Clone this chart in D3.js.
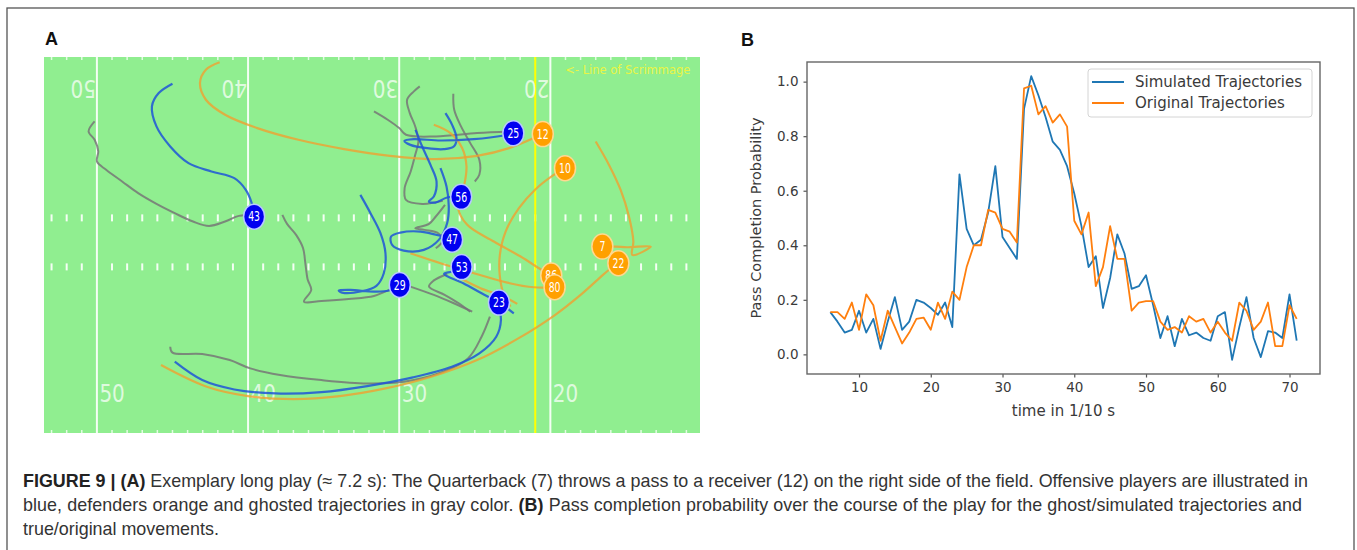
<!DOCTYPE html>
<html>
<head>
<meta charset="utf-8">
<script src="https://cdn.jsdelivr.net/npm/d3@7"></script>
<style>
  body { margin: 0; background: #fff; }
  svg { display: block; }
</style>
</head>
<body>
<div id="fig"></div>
<script>
// ---------- panel B data ----------
var timeSteps = d3.range(6, 72);
var simulated = [0.155, 0.12, 0.08, 0.09, 0.16, 0.08, 0.13, 0.02, 0.12, 0.21,
  0.09, 0.12, 0.20, 0.19, 0.17, 0.145, 0.19, 0.10, 0.66, 0.46,
  0.40, 0.42, 0.52, 0.69, 0.43, 0.39, 0.35, 0.90, 1.02, 0.95,
  0.87, 0.78, 0.75, 0.69, 0.59, 0.47, 0.32, 0.36, 0.17, 0.28,
  0.44, 0.37, 0.24, 0.25, 0.29, 0.18, 0.06, 0.14, 0.03, 0.13,
  0.07, 0.08, 0.06, 0.05, 0.14, 0.155, -0.02, 0.10, 0.21, 0.06,
  -0.01, 0.085, 0.08, 0.06, 0.22, 0.05];
var original = [0.155, 0.155, 0.13, 0.19, 0.09, 0.22, 0.18, 0.05, 0.16, 0.10,
  0.04, 0.08, 0.13, 0.135, 0.09, 0.19, 0.13, 0.23, 0.20, 0.32,
  0.40, 0.40, 0.53, 0.52, 0.46, 0.45, 0.41, 0.975, 0.985, 0.88,
  0.91, 0.85, 0.88, 0.835, 0.49, 0.44, 0.52, 0.25, 0.32, 0.47,
  0.35, 0.35, 0.16, 0.19, 0.195, 0.195, 0.12, 0.09, 0.10, 0.08,
  0.14, 0.12, 0.13, 0.08, 0.12, 0.08, 0.05, 0.19, 0.16, 0.09,
  0.12, 0.19, 0.03, 0.03, 0.18, 0.13];
var xTicks = [10, 20, 30, 40, 50, 60, 70];
var yTicks = [0.0, 0.2, 0.4, 0.6, 0.8, 1.0];
var seriesNames = ["Simulated Trajectories", "Original Trajectories"];

// ---------- panel A data (field yards) ----------
var yardLines = [50, 40, 30, 20];
var lineOfScrimmage = 21;
var hashRows = [23.58, 29.75];

var blueTracks = [
  [[45.0,46.64],[45.91,45.46],[46.36,43.78],[46.06,41.26],[45.15,38.74],[43.94,36.64],[42.42,35.59],[40.91,34.75],[40.15,33.28],[39.76,31.6],[39.61,29.92]],
  [[26.94,42.93],[26.5,41.46],[26.21,39.78],[26.39,38.73],[27.05,38.4],[28.15,38.52],[29.26,38.94],[29.65,39.45],[29.03,39.66],[27.27,39.49],[25.06,39.66],[23.07,40.12],[22.41,40.41]],
  [[28.92,40.83],[28.48,38.73],[27.93,36.42],[27.53,34.33],[27.71,32.44],[28.04,31.81],[27.6,31.68],[26.83,32.31],[25.9,32.44]],
  [[27.27,36.0],[26.87,33.69],[26.72,31.18],[26.83,29.08],[27.38,26.98],[28.37,25.72],[29.7,25.63],[30.47,26.35],[30.54,27.4],[29.92,27.9],[28.59,28.03],[27.27,27.48],[26.5,26.98]],
  [[32.57,32.64],[31.9,30.34],[31.24,27.82],[30.91,25.3],[31.02,22.78],[31.51,21.18],[32.46,20.51],[33.78,20.34],[34.0,20.6],[33.23,20.68],[31.68,20.47],[30.69,20.6],[29.96,21.31]],
  [[25.87,23.55],[26.5,23.0],[27.03,22.69],[25.76,21.51],[24.55,20.25],[23.33,19.0],[22.42,17.73]],
  [[23.48,19.08],[23.27,16.89],[23.58,14.79],[24.7,12.69],[26.52,11.01],[29.09,9.67],[32.12,8.58],[35.15,7.82],[38.18,7.65],[40.91,8.15],[43.03,9.33],[44.85,11.64]]
];
var orangeTracks = [
  [[41.88,49.33],[42.79,48.4],[43.18,46.72],[42.79,44.62],[41.52,42.73],[39.39,41.05],[36.67,39.58],[33.64,38.41],[30.61,37.56],[27.58,37.14],[24.85,37.56],[22.73,38.53],[20.52,40.3]],
  [[19.03,36.0],[19.87,35.04],[20.98,33.36],[22.08,30.97],[22.96,28.03],[23.34,25.09],[23.34,22.36],[23.07,20.05],[22.63,18.58]],
  [[17.0,39.36],[16.12,36.42],[15.35,33.27],[14.8,29.92],[14.51,26.77],[14.58,25.09],[13.36,26.14],[14.91,26.05],[15.68,26.14],[16.56,26.14]],
  [[15.61,24.04],[16.52,22.57],[17.88,20.25],[19.7,17.52],[22.12,14.58],[24.85,11.85],[27.88,9.75],[30.91,8.28],[33.94,7.31],[36.97,6.93],[40.0,7.31],[42.73,8.49],[45.76,11.22]],
  [[27.71,41.46],[26.61,40.41],[25.83,38.52],[25.55,36.21],[25.72,33.69],[26.12,31.18],[25.5,28.87],[23.74,26.77],[21.97,24.88],[20.65,23.28],[19.94,22.49]],
  [[29.26,25.3],[27.27,24.04],[25.06,22.78],[22.85,21.6],[21.09,21.02],[19.72,21.02]],
  [[26.17,22.36],[24.62,20.89],[23.08,19.84],[22.19,18.92]]
];
var grayTracks = [
  [[50.15,41.89],[50.55,40.63],[50.15,39.58],[49.91,38.11],[50.0,36.85],[49.39,35.8],[48.33,34.33],[47.27,32.86],[46.06,31.51],[44.85,30.34],[43.64,29.29],[42.58,28.74],[41.52,29.29],[40.61,30.0],[39.85,30.04]],
  [[37.73,30.13],[37.42,29.0],[36.82,27.61],[36.36,25.93],[36.21,24.04],[36.06,22.02],[35.82,20.67],[36.3,19.2],[35.15,19.29],[33.33,19.54],[31.67,19.92],[30.76,20.59],[30.06,21.01]],
  [[31.67,43.15],[30.76,42.1],[30.0,41.05],[29.55,40.21],[27.58,40.0],[24.85,40.42],[22.73,40.63]],
  [[28.64,46.3],[29.03,45.67],[29.48,44.62],[29.3,42.94],[28.94,41.26],[28.73,39.37],[28.94,37.69],[29.24,35.59],[29.64,33.49],[29.55,32.02],[28.48,31.51],[27.12,31.89]],
  [[26.42,45.38],[26.36,43.36],[25.91,41.26],[25.3,39.16],[24.7,37.06],[24.7,35.17],[25.0,34.33]],
  [[26.97,31.39],[27.58,29.92],[28.03,28.99],[28.94,28.45],[28.33,28.24],[27.42,27.82],[27.12,26.89],[27.58,25.93]],
  [[26.82,22.69],[27.73,21.85],[28.03,21.1],[26.97,20.04],[26.06,19.0],[25.3,17.94]],
  [[29.26,21.1],[27.71,20.05],[26.39,19.0],[25.17,17.95]],
  [[45.15,13.53],[45.0,12.78],[43.03,12.61],[41.21,11.85],[39.85,10.8],[37.88,9.96],[35.15,9.33],[32.12,8.91],[29.7,9.12],[27.27,10.25],[25.45,12.06],[24.55,14.79],[24.0,17.31]]
];
var bluePlayers = [
  {n: "43", x: 39.6, y: 29.9}, {n: "25", x: 22.45, y: 40.4}, {n: "56", x: 25.9, y: 32.4},
  {n: "47", x: 26.5, y: 27.0}, {n: "53", x: 25.87, y: 23.55}, {n: "29", x: 29.96, y: 21.3},
  {n: "23", x: 23.4, y: 19.09}
];
var orangePlayers = [
  {n: "12", x: 20.5, y: 40.3}, {n: "10", x: 19.03, y: 36.0}, {n: "7", x: 16.56, y: 26.14},
  {n: "22", x: 15.5, y: 24.04}, {n: "86", x: 19.94, y: 22.49}, {n: "80", x: 19.72, y: 21.02}
];

var captionLines = [
  [["FIGURE 9 | (A)", true], [" Exemplary long play (\u2248 7.2 s): The Quarterback (7) throws a pass to a receiver (12) on the right side of the field. Offensive players are illustrated in", false]],
  [["blue, defenders orange and ghosted trajectories in gray color. ", false], ["(B)", true], [" Pass completion probability over the course of the play for the ghost/simulated trajectories and", false]],
  [["true/original movements.", false]]
];

var W = 1357, H = 550;
var svg = d3.select("#fig").append("svg").attr("width", W).attr("height", H);

// outer frame
svg.append("rect").attr("x", 7).attr("y", 8).attr("width", 1347).attr("height", 560)
  .attr("fill", "none").attr("stroke", "#555").attr("stroke-width", 1.3);

svg.append("text").attr("x", 45).attr("y", 45).text("A")
  .attr("font-family", "Liberation Sans, Arial, sans-serif").attr("font-weight", "bold")
  .attr("font-size", 18).attr("fill", "#111");
svg.append("text").attr("x", 741).attr("y", 46).text("B")
  .attr("font-family", "Liberation Sans, Arial, sans-serif").attr("font-weight", "bold")
  .attr("font-size", 18).attr("fill", "#111");

// ================= panel A : the field =================
var fx = d3.scaleLinear().domain([53.5, 10.1]).range([44, 700]);
var fy = d3.scaleLinear().domain([2.67, 50.0]).range([433, 57]);
var fTop = fy.range()[1], fBot = fy.range()[0];

var field = svg.append("g");
field.append("rect").attr("x", fx(53.5)).attr("y", fTop)
  .attr("width", fx(10.1) - fx(53.5)).attr("height", fBot - fTop)
  .attr("fill", "#90ee90");

var yardTicks = d3.range(11, 54).filter(function(d) { return d % 10 !== 0; });

// ticks along the sidelines
field.selectAll("line.edge").data(yardTicks.concat(yardTicks.map(function(d) { return -d; })))
  .enter().append("line")
  .attr("x1", function(d) { return fx(Math.abs(d)); })
  .attr("x2", function(d) { return fx(Math.abs(d)); })
  .attr("y1", function(d) { return d > 0 ? fTop : fBot - 3; })
  .attr("y2", function(d) { return d > 0 ? fTop + 3 : fBot; })
  .attr("stroke", "#fff").attr("stroke-opacity", 0.75).attr("stroke-width", 1.5);

// hash marks
hashRows.forEach(function(h) {
  field.selectAll(null).data(yardTicks).enter().append("line")
    .attr("x1", function(d) { return fx(d); }).attr("x2", function(d) { return fx(d); })
    .attr("y1", fy(h) - 3.5).attr("y2", fy(h) + 3.5)
    .attr("stroke", "#fff").attr("stroke-opacity", 0.9).attr("stroke-width", 2);
});

// yard lines
field.selectAll("line.yard").data(yardLines).enter().append("line")
  .attr("x1", function(d) { return fx(d); }).attr("x2", function(d) { return fx(d); })
  .attr("y1", fTop).attr("y2", fBot)
  .attr("stroke", "#fff").attr("stroke-opacity", 0.9).attr("stroke-width", 2);

// line of scrimmage
field.append("line").attr("x1", fx(lineOfScrimmage)).attr("x2", fx(lineOfScrimmage))
  .attr("y1", fTop).attr("y2", fBot).attr("stroke", "#ffff00").attr("stroke-width", 2);

// yard numbers
field.selectAll("text.num-bot").data(yardLines).enter().append("text")
  .attr("transform", function(d) { return "translate(" + (fx(d) + 2.5) + "," + (fBot - 31) + ") scale(1,1.22)"; })
  .text(function(d) { return d; })
  .attr("font-family", "DejaVu Sans, sans-serif").attr("font-size", 20)
  .attr("fill", "#fff").attr("fill-opacity", 0.72);
field.selectAll("text.num-top").data(yardLines).enter().append("text")
  .attr("transform", function(d) { return "translate(" + (fx(d) - 1) + "," + (fTop + 23) + ") rotate(180) scale(1,1.22)"; })
  .text(function(d) { return d; })
  .attr("font-family", "DejaVu Sans, sans-serif").attr("font-size", 20)
  .attr("fill", "#fff").attr("fill-opacity", 0.72);

field.append("text").attr("x", fx(lineOfScrimmage) + 30).attr("y", fTop + 17)
  .text("<- Line of Scrimmage")
  .attr("font-family", "DejaVu Sans, sans-serif").attr("font-size", 11.5)
  .attr("fill", "#f6f63a").attr("fill-opacity", 0.9);

// trajectories
var track = d3.line()
  .x(function(d) { return fx(d[0]); })
  .y(function(d) { return fy(d[1]); })
  .curve(d3.curveCatmullRom.alpha(0.5));

field.selectAll("path.gray").data(grayTracks).enter().append("path")
  .attr("d", track).attr("fill", "none")
  .attr("stroke", "#777").attr("stroke-opacity", 0.85).attr("stroke-width", 2);
field.selectAll("path.orange").data(orangeTracks).enter().append("path")
  .attr("d", track).attr("fill", "none")
  .attr("stroke", "#f0a030").attr("stroke-opacity", 0.8).attr("stroke-width", 2.2);
field.selectAll("path.blue").data(blueTracks).enter().append("path")
  .attr("d", track).attr("fill", "none")
  .attr("stroke", "#1f55d8").attr("stroke-opacity", 0.85).attr("stroke-width", 2.2);

// player markers
function drawPlayers(list, fill, edge) {
  var g = field.selectAll(null).data(list).enter().append("g")
    .attr("transform", function(d) { return "translate(" + fx(d.x) + "," + fy(d.y) + ")"; });
  g.append("ellipse").attr("rx", 10.5).attr("ry", 12.5)
    .attr("fill", fill).attr("stroke", edge).attr("stroke-width", 1.5);
  g.append("text").text(function(d) { return d.n; })
    .attr("transform", "scale(0.85,1.2)")
    .attr("text-anchor", "middle").attr("dy", "0.36em")
    .attr("font-family", "DejaVu Sans, sans-serif").attr("font-size", 11)
    .attr("fill", "#fff");
}
drawPlayers(bluePlayers, "#0000f0", "#b8c8ff");
drawPlayers(orangePlayers, "#ffa000", "#ffd890");

// ================= panel B : line chart =================
var bx = d3.scaleLinear().domain([2.75, 74.25]).range([807, 1320]);
var by = d3.scaleLinear().domain([-0.072, 1.072]).range([374, 62]);
var chart = svg.append("g");
var mplFont = "DejaVu Sans, sans-serif";

var xAxis = chart.append("g").attr("transform", "translate(0," + by.range()[0] + ")")
  .call(d3.axisBottom(bx).tickValues(xTicks).tickSize(3.5).tickPadding(5).tickFormat(d3.format("d")));
var yAxis = chart.append("g").attr("transform", "translate(" + bx.range()[0] + ",0)")
  .call(d3.axisLeft(by).tickValues(yTicks).tickSize(3.5).tickPadding(5).tickFormat(d3.format(".1f")));
[xAxis, yAxis].forEach(function(a) {
  a.select(".domain").remove();
  a.selectAll(".tick line").attr("stroke", "#555").attr("stroke-width", 1.2);
  a.selectAll(".tick text").attr("font-family", mplFont).attr("font-size", 13.5).attr("fill", "#3a3a3a");
});

var lineGen = d3.line()
  .x(function(d, i) { return bx(timeSteps[i]); })
  .y(function(d) { return by(d); });
var seriesColors = ["#1f77b4", "#ff7f0e"];
[simulated, original].forEach(function(s, k) {
  chart.append("path").datum(s).attr("d", lineGen).attr("fill", "none")
    .attr("stroke", seriesColors[k]).attr("stroke-width", 1.8).attr("stroke-linejoin", "round");
});

chart.append("rect").attr("x", bx.range()[0]).attr("y", by.range()[1])
  .attr("width", bx.range()[1] - bx.range()[0]).attr("height", by.range()[0] - by.range()[1])
  .attr("fill", "none").attr("stroke", "#666").attr("stroke-width", 1.4);

// legend
var lg = chart.append("g").attr("transform", "translate(1088,69)");
lg.append("rect").attr("width", 224).attr("height", 48).attr("rx", 3)
  .attr("fill", "#fff").attr("fill-opacity", 0.85).attr("stroke", "#d4d4d4");
seriesNames.forEach(function(name, k) {
  var yy = 13 + k * 21;
  lg.append("line").attr("x1", 4).attr("x2", 36).attr("y1", yy).attr("y2", yy)
    .attr("stroke", seriesColors[k]).attr("stroke-width", 2);
  lg.append("text").attr("x", 47).attr("y", yy).attr("dy", "0.36em").text(name)
    .attr("font-family", mplFont).attr("font-size", 15).attr("fill", "#3a3a3a");
});

chart.append("text").text("time in 1/10 s")
  .attr("x", (bx.range()[0] + bx.range()[1]) / 2).attr("y", 416)
  .attr("text-anchor", "middle").attr("font-family", mplFont).attr("font-size", 15).attr("fill", "#3a3a3a");
chart.append("text").text("Pass Completion Probability")
  .attr("transform", "translate(761," + (by.range()[0] + by.range()[1]) / 2 + ") rotate(-90)")
  .attr("text-anchor", "middle").attr("font-family", mplFont).attr("font-size", 14.5).attr("fill", "#3a3a3a");

// ================= caption =================
var capWidths = [1285, 1279, null];
var cap = svg.append("g").attr("font-family", "Liberation Sans, Arial, sans-serif").attr("fill", "#333");
var capNodes = captionLines.map(function(parts, i) {
  var t = cap.append("text").attr("x", 23).attr("y", 487 + i * 24).attr("font-size", 15);
  parts.forEach(function(p) {
    t.append("tspan").text(p[0]).attr("font-weight", p[1] ? "bold" : null)
      .attr("fill", p[1] ? "#222" : null);
  });
  return t;
});
var natural = capNodes[0].node().getComputedTextLength();
var fs = 15 * capWidths[0] / natural;
capNodes.forEach(function(t, i) {
  t.attr("font-size", fs);
  if (capWidths[i]) t.attr("textLength", capWidths[i]).attr("lengthAdjust", "spacing");
});
</script>
</body>
</html>
